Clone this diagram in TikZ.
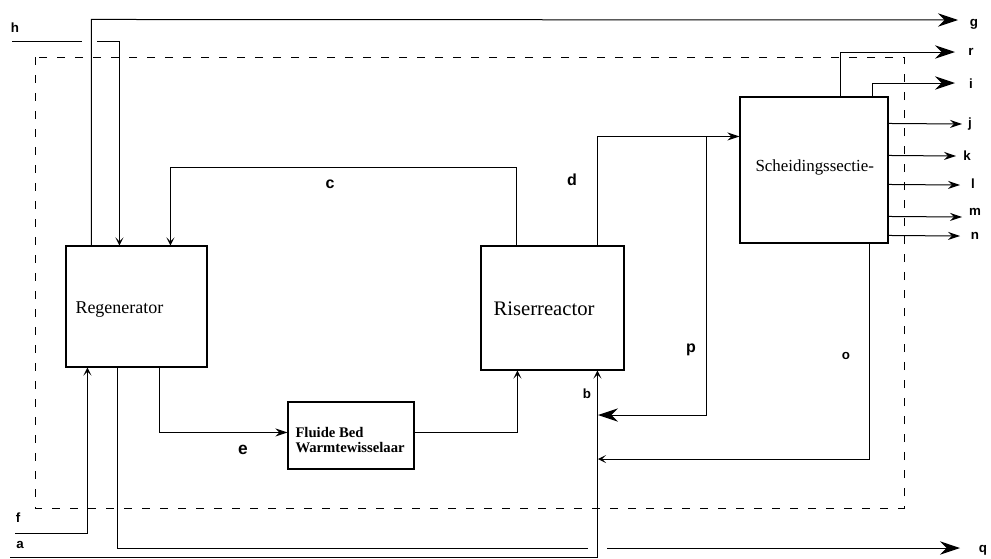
\documentclass[tikz,border=0pt]{standalone}
\usepackage{fontspec}
\setmainfont{Liberation Serif}
\newfontfamily\labfont{Liberation Sans}
\usetikzlibrary{arrows.meta,calc}
\begin{document}
\begin{tikzpicture}[x=0.75pt,y=-0.75pt, line width=0.75pt,
  box/.style={draw, inner sep=0pt, line width=0.8pt},
  lbl/.style={font=\labfont\bfseries\fontsize{10}{12}\selectfont, inner sep=0pt},
  lblbig/.style={font=\labfont\bfseries\fontsize{12}{14}\selectfont, inner sep=0pt},
  bigarr/.style={-{Stealth[length=15pt,width=10pt,inset=5pt]}},
  medarr/.style={-{Stealth[length=9pt,width=6pt,inset=3pt]}},
  smallarr/.style={-{Stealth[length=6pt,width=6pt,inset=3pt]}},
  dashbox/.style={dash pattern=on 6pt off 7.5pt, line width=0.7pt}]
\useasboundingbox (0,0) rectangle (991,558);
\fill[white] (0,0) rectangle (991,558);

% boxes
\node[box, minimum width=105.75pt, minimum height=90.75pt] (reg) at (136.5,306.5) {};
\node[box, minimum width=107.25pt, minimum height=93pt] (riser) at (552.5,308) {};
\node[box, minimum width=111pt, minimum height=109.5pt] (sch) at (814,170) {};
\node[box, minimum width=94.5pt, minimum height=50.25pt] (fb) at (351,435.5) {};

% box texts
\node[anchor=west, font=\fontsize{13.5}{16}\selectfont, inner sep=0pt] (tReg) at (75,310) {Regenerator};
\node[anchor=west, font=\fontsize{15.5}{18}\selectfont, inner sep=0pt] (tRis) at (493,309) {Riserreactor};
\node[anchor=west, font=\fontsize{12.7}{15}\selectfont, inner sep=0pt] (tSch) at (755,167) {Scheidingssectie-};
\node[anchor=west, align=left, font=\bfseries\fontsize{11}{11.5}\selectfont, inner sep=0pt] (tFb) at (295,440) {Fluide Bed\\Warmtewisselaar};

% dashed boundary
\draw[dashbox] (35,57) rectangle (904,508);

% g
\draw[bigarr] ($(reg.north west)+(26,0)$) -- ++(0,-226) -- (958,20);
% h
\draw (12,41) -- (82,41);
\draw[smallarr] (97,41) -| ($(reg.north west)+(54,0)$);
% c
\draw[smallarr] ($(riser.north west)+(36,0)$) -- ++(0,-78) -| ($(reg.north west)+(105,0)$);
% d
\draw[medarr] ($(riser.north west)+(117,0)$) |- ($(sch.north west)+(0,40)$);
\coordinate (pj) at (706,137);
\coordinate (pb) at (598,415);
\coordinate (ob) at (598,459);
% p
\draw[bigarr] (pj) |- (pb);
% o
\draw[smallarr] ($(sch.south west)+(130,0)$) |- (ob);
% a / b
\draw[smallarr] (10,557) -| ($(riser.south west)+(117,0)$);
% regenerator -> q
\draw ($(reg.south west)+(52,0)$) |- (588,548);
\draw[bigarr] (607,548) -- (960,548);
% e
\draw[medarr] ($(reg.south west)+(94,0)$) |- ($(fb.north west)+(0,31)$);
% fluide bed -> riser
\draw[smallarr] ($(fb.north east)+(0,31)$) -| ($(riser.south west)+(37,0)$);
% f
\draw[smallarr] (15,533) -| ($(reg.south west)+(22,0)$);
% r, i
\draw[bigarr] ($(sch.north west)+(101,0)$) |- (955,52);
\draw[bigarr] ($(sch.north west)+(133,0)$) |- (955,83);
% j..n
\draw[medarr] ($(sch.north east)+(0,27)$) -- (962,124);
\draw[medarr] ($(sch.north east)+(0,59)$) -- (956,156);
\draw[medarr] ($(sch.north east)+(0,88)$) -- (960,185);
\draw[medarr] ($(sch.north east)+(0,120)$) -- (962,217);
\draw[medarr] ($(sch.north east)+(0,139)$) -- (960,236);

% labels
\node[lbl] (lg) at (974,24) {g};
\node[lbl] (lh) at (15,28) {h};
\node[lbl] (lr) at (971,52) {r};
\node[lbl] (li) at (971,84) {i};
\node[lbl] (lj) at (970,124) {j};
\node[lbl] (lk) at (967,156) {k};
\node[lbl] (ll) at (973,184) {l};
\node[lbl] (lm) at (975,212) {m};
\node[lbl] (ln) at (975,236) {n};
\node[lblbig] (lc) at (330,184) {c};
\node[lblbig] (ld) at (572,180) {d};
\node[lblbig, font=\labfont\bfseries\fontsize{13}{15}\selectfont] (le) at (243,450) {e};
\node[lbl] (lf) at (18,518) {f};
\node[lbl] (la) at (20,545) {a};
\node[lblbig] (lp) at (691,350) {p};
\node[lbl] (lo) at (846,356) {o};
\node[lbl] (lb) at (587,394) {b};
\node[lbl] (lq) at (983,550) {q};
\end{tikzpicture}
\end{document}
